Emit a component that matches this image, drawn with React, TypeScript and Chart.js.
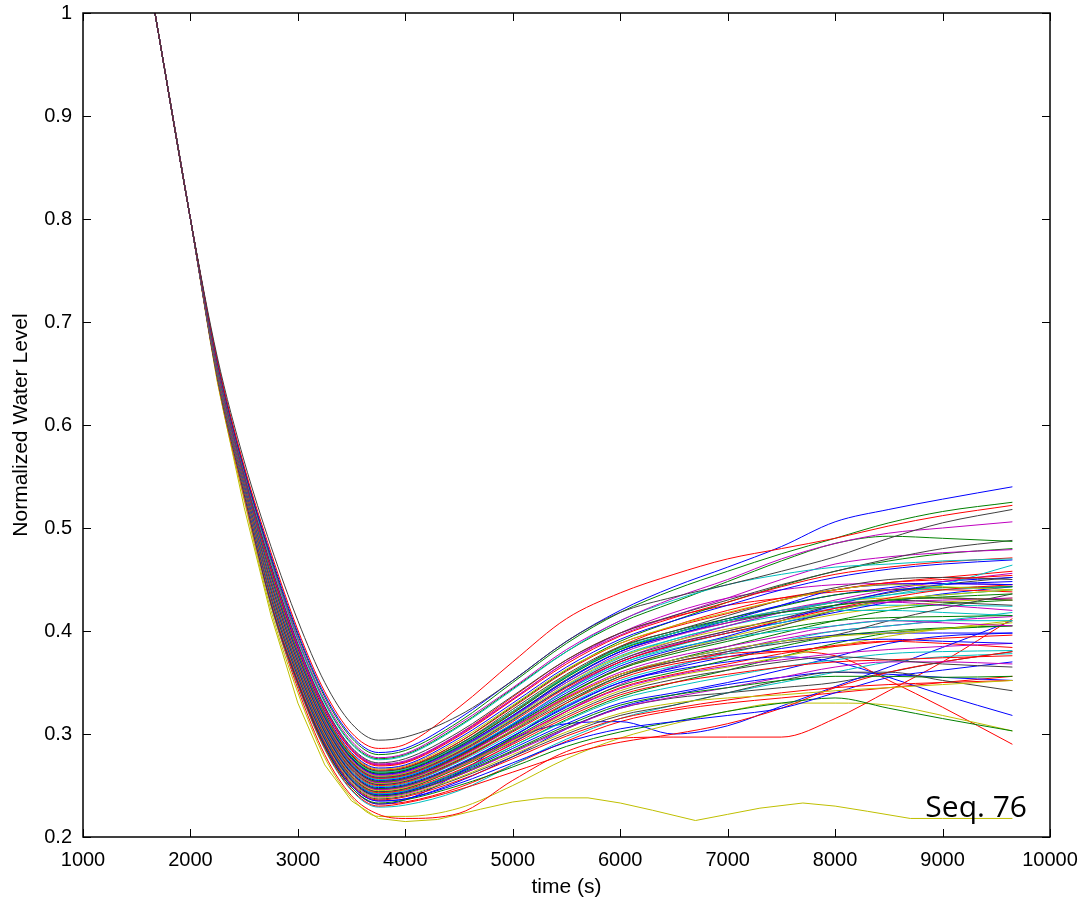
import React, { useEffect, useRef } from 'react';
import { Chart, registerables } from 'chart.js';

Chart.register(...registerables);

const X_TICKS = [1000, 2000, 3000, 4000, 5000, 6000, 7000, 8000, 9000, 10000];
const X_TICK_LABELS = ['1000', '2000', '3000', '4000', '5000', '6000', '7000', '8000', '9000', '10000'];
const Y_TICKS = [0.2, 0.3, 0.4, 0.5, 0.6, 0.7, 0.8, 0.9, 1.0];
const Y_TICK_LABELS = ['0.2', '0.3', '0.4', '0.5', '0.6', '0.7', '0.8', '0.9', '1'];

const X_TITLE = 'time (s)';
const Y_TITLE = 'Normalized Water Level';
const ANNOTATION = 'Seq. 76';

// time grid shared by the runs (s)
const TIME_GRID = [1670, 2000, 2250, 2500, 2750, 3000, 3250, 3500, 3750, 4000, 4500, 5000, 5500, 6000, 6500, 7000, 7500, 8000, 8500, 9000, 9650];
// common start of the drawdown (1670, 2000 s)
const DESCENT_HEAD = [1.0, 0.8];

// per-run level at 2250 s
const LEVEL_AT_2250 = [
  0.666, 0.663, 0.662, 0.661, 0.66, 0.66, 0.66, 0.659, 0.659, 0.658,
  0.657, 0.657, 0.657, 0.657, 0.656, 0.656, 0.656, 0.656, 0.655, 0.655,
  0.654, 0.654, 0.654, 0.654, 0.653, 0.653, 0.653, 0.653, 0.652, 0.652,
  0.651, 0.651, 0.651, 0.651, 0.65, 0.65, 0.65, 0.65, 0.649, 0.649,
  0.648, 0.648, 0.648, 0.647, 0.647, 0.646, 0.645, 0.643, 0.648, 0.654,
  0.651, 0.654, 0.656, 0.655, 0.653, 0.656, 0.653, 0.651, 0.65, 0.658,
  0.65, 0.654, 0.648, 0.647, 0.657, 0.656, 0.655, 0.654, 0.653, 0.652,
  0.655, 0.651, 0.658, 0.653, 0.656, 0.65,
];

// per-run levels at 2500 ... 9650 s
const SERIES_VALUES = [
  [0.565, 0.482, 0.41, 0.35, 0.31, 0.294, 0.297, 0.318, 0.352, 0.39, 0.418, 0.433, 0.445, 0.458, 0.472, 0.49, 0.505, 0.518],
  [0.56, 0.476, 0.401, 0.341, 0.301, 0.286, 0.29, 0.326, 0.37, 0.412, 0.437, 0.455, 0.47, 0.48, 0.49, 0.502, 0.512, 0.522],
  [0.558, 0.473, 0.398, 0.338, 0.298, 0.282, 0.286, 0.315, 0.352, 0.39, 0.42, 0.443, 0.462, 0.482, 0.506, 0.518, 0.528, 0.54],
  [0.557, 0.471, 0.396, 0.336, 0.296, 0.28, 0.284, 0.312, 0.35, 0.388, 0.418, 0.44, 0.458, 0.475, 0.49, 0.505, 0.516, 0.525],
  [0.556, 0.469, 0.393, 0.333, 0.293, 0.277, 0.281, 0.31, 0.345, 0.382, 0.41, 0.432, 0.45, 0.47, 0.485, 0.495, 0.5, 0.506],
  [0.555, 0.467, 0.391, 0.33, 0.29, 0.275, 0.279, 0.307, 0.343, 0.38, 0.41, 0.43, 0.445, 0.455, 0.462, 0.465, 0.468, 0.47],
  [0.556, 0.468, 0.392, 0.331, 0.291, 0.276, 0.28, 0.308, 0.344, 0.38, 0.408, 0.428, 0.448, 0.468, 0.485, 0.492, 0.49, 0.487],
  [0.553, 0.464, 0.388, 0.327, 0.287, 0.272, 0.276, 0.302, 0.337, 0.372, 0.398, 0.415, 0.43, 0.445, 0.458, 0.47, 0.48, 0.488],
  [0.553, 0.463, 0.386, 0.326, 0.286, 0.271, 0.274, 0.3, 0.334, 0.37, 0.396, 0.415, 0.432, 0.45, 0.465, 0.472, 0.476, 0.479],
  [0.552, 0.461, 0.385, 0.324, 0.284, 0.269, 0.272, 0.298, 0.333, 0.368, 0.395, 0.413, 0.428, 0.443, 0.455, 0.462, 0.467, 0.471],
  [0.551, 0.46, 0.383, 0.322, 0.282, 0.267, 0.27, 0.296, 0.33, 0.365, 0.392, 0.41, 0.425, 0.44, 0.452, 0.46, 0.465, 0.469],
  [0.551, 0.459, 0.382, 0.321, 0.281, 0.266, 0.269, 0.294, 0.328, 0.363, 0.388, 0.405, 0.418, 0.43, 0.44, 0.445, 0.443, 0.44],
  [0.55, 0.458, 0.381, 0.32, 0.28, 0.265, 0.268, 0.292, 0.326, 0.361, 0.388, 0.404, 0.417, 0.43, 0.44, 0.447, 0.45, 0.454],
  [0.55, 0.457, 0.38, 0.319, 0.279, 0.264, 0.267, 0.29, 0.324, 0.358, 0.385, 0.4, 0.415, 0.43, 0.442, 0.45, 0.452, 0.45],
  [0.549, 0.456, 0.379, 0.318, 0.278, 0.263, 0.266, 0.289, 0.322, 0.356, 0.383, 0.398, 0.41, 0.42, 0.428, 0.435, 0.445, 0.464],
  [0.549, 0.455, 0.378, 0.317, 0.277, 0.262, 0.265, 0.288, 0.32, 0.355, 0.382, 0.398, 0.41, 0.418, 0.425, 0.43, 0.433, 0.436],
  [0.548, 0.454, 0.377, 0.316, 0.276, 0.261, 0.264, 0.287, 0.318, 0.352, 0.38, 0.396, 0.41, 0.425, 0.44, 0.445, 0.446, 0.445],
  [0.548, 0.453, 0.376, 0.315, 0.275, 0.26, 0.263, 0.286, 0.317, 0.35, 0.378, 0.395, 0.408, 0.42, 0.428, 0.428, 0.425, 0.42],
  [0.547, 0.452, 0.375, 0.314, 0.274, 0.259, 0.262, 0.284, 0.315, 0.348, 0.375, 0.39, 0.402, 0.41, 0.42, 0.43, 0.435, 0.44],
  [0.547, 0.451, 0.374, 0.313, 0.273, 0.258, 0.261, 0.283, 0.314, 0.346, 0.372, 0.388, 0.4, 0.412, 0.425, 0.43, 0.428, 0.425],
  [0.546, 0.45, 0.373, 0.312, 0.272, 0.257, 0.26, 0.282, 0.312, 0.345, 0.37, 0.386, 0.398, 0.41, 0.422, 0.432, 0.44, 0.445],
  [0.546, 0.449, 0.372, 0.311, 0.271, 0.256, 0.259, 0.281, 0.31, 0.342, 0.368, 0.383, 0.393, 0.4, 0.405, 0.41, 0.41, 0.41],
  [0.545, 0.448, 0.371, 0.31, 0.27, 0.255, 0.258, 0.28, 0.309, 0.34, 0.366, 0.382, 0.395, 0.41, 0.425, 0.438, 0.445, 0.448],
  [0.545, 0.447, 0.37, 0.309, 0.269, 0.254, 0.257, 0.279, 0.308, 0.338, 0.363, 0.378, 0.39, 0.402, 0.41, 0.413, 0.414, 0.415],
  [0.544, 0.446, 0.369, 0.308, 0.268, 0.253, 0.256, 0.277, 0.306, 0.336, 0.36, 0.375, 0.385, 0.395, 0.405, 0.41, 0.408, 0.405],
  [0.544, 0.445, 0.368, 0.307, 0.267, 0.252, 0.255, 0.276, 0.304, 0.334, 0.358, 0.372, 0.382, 0.39, 0.395, 0.398, 0.402, 0.408],
  [0.543, 0.444, 0.367, 0.306, 0.266, 0.251, 0.254, 0.275, 0.303, 0.332, 0.356, 0.37, 0.38, 0.388, 0.396, 0.41, 0.422, 0.436],
  [0.543, 0.443, 0.366, 0.305, 0.265, 0.25, 0.253, 0.274, 0.302, 0.33, 0.354, 0.368, 0.375, 0.38, 0.385, 0.39, 0.393, 0.396],
  [0.542, 0.442, 0.365, 0.304, 0.264, 0.249, 0.252, 0.273, 0.3, 0.328, 0.352, 0.366, 0.378, 0.39, 0.4, 0.405, 0.41, 0.418],
  [0.542, 0.441, 0.364, 0.303, 0.263, 0.248, 0.251, 0.271, 0.298, 0.326, 0.35, 0.364, 0.375, 0.383, 0.39, 0.392, 0.39, 0.388],
  [0.541, 0.44, 0.363, 0.302, 0.262, 0.247, 0.25, 0.27, 0.296, 0.324, 0.347, 0.36, 0.372, 0.385, 0.395, 0.4, 0.403, 0.405],
  [0.541, 0.439, 0.362, 0.301, 0.261, 0.246, 0.249, 0.269, 0.295, 0.322, 0.344, 0.357, 0.366, 0.372, 0.378, 0.382, 0.385, 0.388],
  [0.54, 0.438, 0.361, 0.3, 0.26, 0.245, 0.248, 0.268, 0.293, 0.32, 0.342, 0.356, 0.365, 0.375, 0.385, 0.395, 0.402, 0.41],
  [0.54, 0.437, 0.36, 0.299, 0.259, 0.244, 0.247, 0.267, 0.292, 0.318, 0.34, 0.353, 0.362, 0.37, 0.375, 0.372, 0.368, 0.365],
  [0.539, 0.436, 0.359, 0.298, 0.258, 0.243, 0.246, 0.265, 0.29, 0.316, 0.338, 0.35, 0.358, 0.365, 0.37, 0.372, 0.374, 0.376],
  [0.539, 0.435, 0.358, 0.297, 0.257, 0.242, 0.245, 0.264, 0.288, 0.313, 0.334, 0.346, 0.356, 0.365, 0.372, 0.378, 0.38, 0.381],
  [0.538, 0.434, 0.357, 0.296, 0.256, 0.241, 0.244, 0.262, 0.286, 0.31, 0.33, 0.34, 0.35, 0.362, 0.375, 0.388, 0.395, 0.398],
  [0.538, 0.433, 0.356, 0.295, 0.255, 0.24, 0.243, 0.261, 0.284, 0.308, 0.328, 0.338, 0.345, 0.352, 0.356, 0.356, 0.355, 0.356],
  [0.537, 0.432, 0.355, 0.294, 0.254, 0.239, 0.242, 0.26, 0.282, 0.305, 0.325, 0.336, 0.345, 0.355, 0.365, 0.37, 0.37, 0.368],
  [0.537, 0.431, 0.354, 0.293, 0.253, 0.238, 0.241, 0.258, 0.28, 0.302, 0.32, 0.33, 0.335, 0.338, 0.342, 0.345, 0.348, 0.352],
  [0.536, 0.43, 0.353, 0.292, 0.252, 0.237, 0.24, 0.257, 0.278, 0.3, 0.318, 0.328, 0.34, 0.352, 0.36, 0.36, 0.352, 0.342],
  [0.536, 0.429, 0.352, 0.291, 0.251, 0.236, 0.239, 0.255, 0.276, 0.298, 0.315, 0.325, 0.333, 0.34, 0.345, 0.348, 0.35, 0.352],
  [0.535, 0.428, 0.351, 0.29, 0.25, 0.235, 0.237, 0.252, 0.272, 0.292, 0.305, 0.312, 0.318, 0.325, 0.34, 0.355, 0.362, 0.37],
  [0.534, 0.427, 0.35, 0.288, 0.248, 0.233, 0.236, 0.25, 0.268, 0.288, 0.302, 0.312, 0.322, 0.33, 0.335, 0.325, 0.315, 0.303],
  [0.533, 0.426, 0.348, 0.286, 0.246, 0.23, 0.233, 0.246, 0.263, 0.28, 0.292, 0.3, 0.31, 0.325, 0.345, 0.36, 0.37, 0.38],
  [0.532, 0.425, 0.347, 0.285, 0.245, 0.229, 0.231, 0.245, 0.27, 0.295, 0.315, 0.328, 0.34, 0.35, 0.36, 0.37, 0.375, 0.378],
  [0.53, 0.425, 0.344, 0.28, 0.24, 0.222, 0.218, 0.223, 0.255, 0.283, 0.296, 0.297, 0.297, 0.297, 0.315, 0.342, 0.37, 0.412],
  [0.527, 0.42, 0.34, 0.277, 0.238, 0.22, 0.22, 0.228, 0.25, 0.276, 0.296, 0.31, 0.322, 0.33, 0.33, 0.328, 0.318, 0.303],
  [0.535, 0.43, 0.35, 0.288, 0.248, 0.232, 0.236, 0.262, 0.295, 0.31, 0.312, 0.3, 0.308, 0.327, 0.346, 0.365, 0.384, 0.41],
  [0.545, 0.448, 0.37, 0.309, 0.269, 0.254, 0.257, 0.278, 0.306, 0.335, 0.358, 0.37, 0.378, 0.38, 0.376, 0.352, 0.326, 0.29],
  [0.541, 0.44, 0.363, 0.302, 0.262, 0.247, 0.25, 0.27, 0.298, 0.327, 0.35, 0.362, 0.37, 0.375, 0.37, 0.355, 0.338, 0.318],
  [0.546, 0.45, 0.373, 0.312, 0.272, 0.257, 0.26, 0.283, 0.314, 0.346, 0.372, 0.39, 0.405, 0.418, 0.43, 0.44, 0.448, 0.456],
  [0.548, 0.455, 0.378, 0.317, 0.277, 0.262, 0.265, 0.29, 0.322, 0.356, 0.384, 0.4, 0.412, 0.424, 0.435, 0.44, 0.442, 0.443],
  [0.547, 0.452, 0.374, 0.313, 0.273, 0.258, 0.261, 0.285, 0.316, 0.35, 0.376, 0.392, 0.405, 0.415, 0.42, 0.42, 0.418, 0.415],
  [0.544, 0.446, 0.369, 0.308, 0.268, 0.253, 0.256, 0.278, 0.307, 0.338, 0.364, 0.38, 0.392, 0.405, 0.42, 0.43, 0.432, 0.43],
  [0.549, 0.456, 0.379, 0.318, 0.278, 0.263, 0.266, 0.29, 0.322, 0.357, 0.382, 0.398, 0.41, 0.42, 0.428, 0.432, 0.432, 0.43],
  [0.543, 0.444, 0.367, 0.306, 0.266, 0.251, 0.254, 0.275, 0.304, 0.334, 0.358, 0.372, 0.382, 0.39, 0.396, 0.398, 0.398, 0.398],
  [0.541, 0.439, 0.362, 0.301, 0.261, 0.246, 0.249, 0.268, 0.294, 0.322, 0.345, 0.358, 0.368, 0.378, 0.386, 0.39, 0.388, 0.384],
  [0.539, 0.436, 0.358, 0.297, 0.257, 0.242, 0.245, 0.263, 0.288, 0.314, 0.336, 0.35, 0.362, 0.375, 0.388, 0.398, 0.402, 0.405],
  [0.552, 0.462, 0.386, 0.325, 0.285, 0.27, 0.273, 0.299, 0.334, 0.37, 0.398, 0.418, 0.432, 0.44, 0.445, 0.446, 0.446, 0.445],
  [0.538, 0.433, 0.356, 0.295, 0.255, 0.24, 0.243, 0.26, 0.283, 0.306, 0.325, 0.335, 0.34, 0.345, 0.35, 0.36, 0.37, 0.38],
  [0.545, 0.448, 0.371, 0.31, 0.27, 0.255, 0.258, 0.28, 0.31, 0.342, 0.368, 0.385, 0.398, 0.408, 0.42, 0.43, 0.435, 0.44],
  [0.536, 0.43, 0.352, 0.29, 0.25, 0.235, 0.237, 0.254, 0.278, 0.305, 0.326, 0.338, 0.348, 0.355, 0.36, 0.358, 0.355, 0.352],
  [0.534, 0.428, 0.35, 0.288, 0.248, 0.232, 0.234, 0.248, 0.27, 0.293, 0.312, 0.323, 0.33, 0.335, 0.34, 0.345, 0.35, 0.356],
  [0.55, 0.458, 0.38, 0.319, 0.279, 0.264, 0.267, 0.292, 0.327, 0.362, 0.39, 0.41, 0.428, 0.444, 0.458, 0.468, 0.475, 0.48],
  [0.549, 0.455, 0.377, 0.316, 0.276, 0.261, 0.264, 0.288, 0.321, 0.356, 0.385, 0.405, 0.42, 0.432, 0.44, 0.447, 0.452, 0.458],
  [0.547, 0.452, 0.374, 0.313, 0.273, 0.258, 0.261, 0.285, 0.317, 0.352, 0.38, 0.398, 0.412, 0.425, 0.435, 0.442, 0.448, 0.452],
  [0.546, 0.45, 0.372, 0.311, 0.271, 0.256, 0.259, 0.282, 0.313, 0.347, 0.374, 0.392, 0.405, 0.418, 0.428, 0.435, 0.44, 0.443],
  [0.544, 0.447, 0.369, 0.308, 0.268, 0.253, 0.256, 0.279, 0.31, 0.343, 0.37, 0.387, 0.4, 0.412, 0.422, 0.428, 0.43, 0.432],
  [0.542, 0.443, 0.365, 0.304, 0.264, 0.249, 0.252, 0.274, 0.304, 0.337, 0.363, 0.38, 0.394, 0.406, 0.416, 0.423, 0.428, 0.432],
  [0.547, 0.452, 0.375, 0.314, 0.274, 0.259, 0.262, 0.286, 0.318, 0.353, 0.38, 0.396, 0.408, 0.418, 0.428, 0.437, 0.445, 0.452],
  [0.54, 0.438, 0.36, 0.299, 0.259, 0.244, 0.247, 0.268, 0.297, 0.33, 0.356, 0.372, 0.385, 0.398, 0.41, 0.42, 0.426, 0.43],
  [0.552, 0.462, 0.386, 0.325, 0.285, 0.27, 0.273, 0.3, 0.336, 0.372, 0.398, 0.414, 0.425, 0.432, 0.438, 0.44, 0.44, 0.438],
  [0.543, 0.445, 0.368, 0.307, 0.267, 0.252, 0.255, 0.278, 0.309, 0.343, 0.37, 0.386, 0.398, 0.408, 0.418, 0.428, 0.436, 0.443],
  [0.548, 0.454, 0.377, 0.316, 0.276, 0.261, 0.264, 0.288, 0.32, 0.355, 0.382, 0.398, 0.41, 0.418, 0.423, 0.425, 0.425, 0.424],
  [0.538, 0.434, 0.357, 0.296, 0.256, 0.241, 0.244, 0.264, 0.291, 0.322, 0.348, 0.365, 0.38, 0.392, 0.4, 0.405, 0.41, 0.414],
];

const SERIES_COLORS = [
  'k', 'r', 'b', 'g', 'm', 'c', 'g', 'k', 'm', 'r',
  'b', 'y', 'r', 'k', 'c', 'g', 'b', 'm', 'y', 'k',
  'r', 'c', 'b', 'g', 'm', 'y', 'k', 'r', 'c', 'b',
  'g', 'm', 'y', 'k', 'r', 'c', 'b', 'g', 'm', 'y',
  'k', 'r', 'b', 'g', 'r', 'c', 'r', 'y', 'b', 'r',
  'b', 'm', 'g', 'c', 'k', 'y', 'b', 'r', 'g', 'm',
  'k', 'c', 'b', 'r', 'g', 'r', 'b', 'c', 'm', 'y',
  'k', 'g', 'r', 'b', 'c', 'm',
];

// the separate low run (its own time samples)
const OUTLIER_TIME = [1670, 2000, 2250, 2500, 2750, 3000, 3250, 3500, 3750, 4000, 4300, 4700, 5000, 5300, 5700, 6000, 6300, 6700, 7000, 7300, 7700, 8000, 8300, 8700, 9000, 9650];
const OUTLIER_LEVEL = [1.0, 0.8, 0.642, 0.52, 0.415, 0.33, 0.27, 0.235, 0.218, 0.215, 0.217, 0.227, 0.234, 0.238, 0.238, 0.233, 0.226, 0.216, 0.222, 0.228, 0.233, 0.23, 0.225, 0.218, 0.218, 0.218];
const OUTLIER_COLOR = 'y';

const PALETTE: Record<string, string> = {
  b: '#0000FF',
  g: '#008000',
  r: '#FF0000',
  c: '#00BFBF',
  m: '#BF00BF',
  y: '#BFBF00',
  k: '#404040',
};

const AXIS_FONT = '"Liberation Sans", Arial, sans-serif';

const framePlugin = {
  id: 'matlabFrame',
  afterDraw(chart: any) {
    const { ctx, chartArea: a, scales } = chart;
    const xs = scales.x;
    const ys = scales.y;
    const tick = 8;
    ctx.save();
    ctx.strokeStyle = '#000';
    ctx.lineWidth = 1;
    ctx.beginPath();
    X_TICKS.forEach((v) => {
      const px = Math.round(xs.getPixelForValue(v)) + 0.5;
      ctx.moveTo(px, a.bottom);
      ctx.lineTo(px, a.bottom - tick);
      ctx.moveTo(px, a.top);
      ctx.lineTo(px, a.top + tick);
    });
    Y_TICKS.forEach((v) => {
      const py = Math.round(ys.getPixelForValue(v)) + 0.5;
      ctx.moveTo(a.left, py);
      ctx.lineTo(a.left + tick, py);
      ctx.moveTo(a.right, py);
      ctx.lineTo(a.right - tick, py);
    });
    ctx.stroke();
    ctx.lineWidth = 1.5;
    ctx.strokeRect(a.left, a.top, a.right - a.left, a.bottom - a.top);
    ctx.fillStyle = '#000';
    ctx.font = '30px "Open Sans", "Noto Sans", sans-serif';
    ctx.textAlign = 'right';
    ctx.textBaseline = 'alphabetic';
    ctx.fillText(ANNOTATION, a.right - 23, a.bottom - 20);
    ctx.restore();
  },
};

export default function App() {
  const canvasRef = useRef<HTMLCanvasElement | null>(null);

  useEffect(() => {
    const canvas = canvasRef.current;
    if (!canvas) return;

    const datasets: any[] = SERIES_VALUES.map((vals, i) => {
      const levels = [...DESCENT_HEAD, LEVEL_AT_2250[i], ...vals];
      return {
        label: 'run ' + (i + 1),
        data: TIME_GRID.map((t, j) => ({ x: t, y: levels[j] })),
        borderColor: PALETTE[SERIES_COLORS[i % SERIES_COLORS.length]],
        borderWidth: 1,
        pointRadius: 0,
        fill: false,
        cubicInterpolationMode: 'monotone',
      };
    });
    datasets.push({
      label: 'run ' + (SERIES_VALUES.length + 1),
      data: OUTLIER_TIME.map((t, j) => ({ x: t, y: OUTLIER_LEVEL[j] })),
      borderColor: PALETTE[OUTLIER_COLOR],
      borderWidth: 1,
      pointRadius: 0,
      fill: false,
      tension: 0,
    });

    const chart = new Chart(canvas, {
      type: 'line',
      data: { datasets },
      plugins: [framePlugin],
      options: {
        animation: false,
        responsive: false,
        maintainAspectRatio: false,
        layout: { padding: { left: 0, top: 13, right: 31, bottom: 0 } },
        plugins: {
          legend: { display: false },
          tooltip: { enabled: false },
        },
        scales: {
          x: {
            type: 'linear',
            min: 1000,
            max: 10000,
            afterBuildTicks: (scale: any) => {
              scale.ticks = X_TICKS.map((v) => ({ value: v }));
            },
            afterFit: (scale: any) => {
              scale.height = 63;
              scale.paddingLeft = 0;
              scale.paddingRight = 0;
            },
            grid: { display: false, drawTicks: false },
            border: { display: false },
            ticks: {
              autoSkip: false,
              maxRotation: 0,
              padding: 11,
              color: '#000',
              font: { family: AXIS_FONT, size: 20 },
              callback: (v: any) => X_TICK_LABELS[X_TICKS.indexOf(Number(v))] ?? '',
            },
            title: {
              display: true,
              text: X_TITLE,
              color: '#000',
              font: { family: AXIS_FONT, size: 21 },
              padding: { top: 0, bottom: 0 },
            },
          },
          y: {
            type: 'linear',
            min: 0.2,
            max: 1,
            afterBuildTicks: (scale: any) => {
              scale.ticks = Y_TICKS.map((v) => ({ value: v }));
            },
            afterFit: (scale: any) => {
              scale.width = 83;
              scale.paddingTop = 0;
              scale.paddingBottom = 0;
            },
            grid: { display: false, drawTicks: false },
            border: { display: false },
            ticks: {
              autoSkip: false,
              padding: 11,
              color: '#000',
              font: { family: AXIS_FONT, size: 20 },
              callback: (v: any) => {
                const idx = Y_TICKS.findIndex((t) => Math.abs(t - Number(v)) < 1e-9);
                return idx >= 0 ? Y_TICK_LABELS[idx] : '';
              },
            },
            title: {
              display: true,
              text: Y_TITLE,
              color: '#000',
              font: { family: AXIS_FONT, size: 21 },
              padding: { top: 9, bottom: 0 },
            },
          },
        },
      },
    });

    return () => {
      chart.destroy();
    };
  }, []);

  return (
    <div style={{ position: 'absolute', left: 0, top: 0, width: 1081, height: 900, background: '#fff' }}>
      <canvas ref={canvasRef} width={1081} height={900} style={{ width: 1081, height: 900, display: 'block' }} />
    </div>
  );
}
